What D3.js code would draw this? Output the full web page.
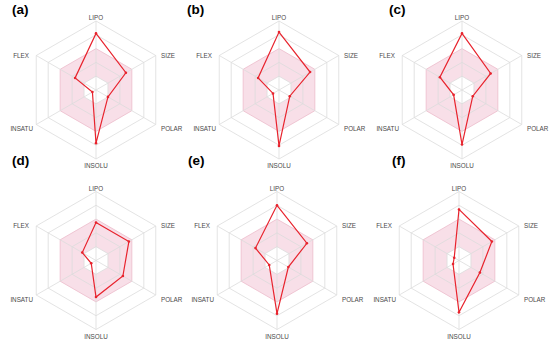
<!DOCTYPE html>
<html><head><meta charset="utf-8">
<script src="https://cdn.jsdelivr.net/npm/d3@7"></script>
<style>body{margin:0;background:#fff}svg{display:block}</style>
</head><body>
<svg id="c" width="550" height="343"></svg>
<script>
const axes = ["LIPO","SIZE","POLAR","INSOLU","INSATU","FLEX"];
const panels = ["(a)","(b)","(c)","(d)","(e)","(f)"];
const valuesA = [0.82,0.50,0.20,0.77,0.06,0.35];
const valuesB = [0.84,0.52,0.18,0.81,0.10,0.35];
const valuesC = [0.82,0.48,0.18,0.79,0.14,0.37];
const valuesD = [0.55,0.55,0.45,0.53,0.08,0.23];
const valuesE = [0.80,0.50,0.19,0.77,0.13,0.36];
const valuesF = [0.74,0.55,0.35,0.75,0.10,0.08];
const allValues = [valuesA,valuesB,valuesC,valuesD,valuesE,valuesF];
const ringLevels = [0.2,0.4,0.6,0.8,1.0];
const optimalRange = [0.2,0.6];

const centers = [[96,90],[279,90],[462,90],[96,260.5],[277,260.5],[459,260.5]];
const labelPos = [[12,14],[187,14],[389,14],[12,165],[188,165],[392,165]];
const R = 69;
const svg = d3.select("#c");
const r = d3.scaleLinear().domain([0,1]).range([0,R]);
const ang = d3.scalePoint().domain(axes.concat(["_"])).range([-Math.PI/2, 1.5*Math.PI]);
const pt = (a,v)=>[r(v)*Math.cos(ang(a)), r(v)*Math.sin(ang(a))];
const hexPath = v => "M"+axes.map(a=>pt(a,v).join(",")).join("L")+"Z";

const labelOff = {
  LIPO:[0,-70,"middle"], SIZE:[65,-32.5,"start"], POLAR:[65,41,"start"],
  INSOLU:[0,78,"middle"], INSATU:[-63,41,"end"], FLEX:[-67,-32.5,"end"]
};

allValues.forEach((vals,i)=>{
  const g = svg.append("g").attr("transform",`translate(${centers[i][0]},${centers[i][1]})`);
  g.append("path").attr("d", hexPath(optimalRange[1])+hexPath(optimalRange[0]))
    .attr("fill","#f8dfe8").attr("fill-rule","evenodd").attr("stroke","none");
  ringLevels.forEach(l=>{
    g.append("path").attr("d",hexPath(l)).attr("fill","none")
      .attr("stroke", (l===optimalRange[1]) ? "#ecbccb" : "#dcdcdc").attr("stroke-width",0.8);
  });
  axes.forEach(a=>{
    const p = pt(a,1);
    g.append("line").attr("x1",0).attr("y1",0).attr("x2",p[0]).attr("y2",p[1])
      .attr("stroke","#dcdcdc").attr("stroke-width",0.8);
    const o = labelOff[a];
    g.append("text").attr("x",o[0]).attr("y",o[1]).attr("text-anchor",o[2])
      .attr("font-family","Liberation Sans, Arial, sans-serif").attr("font-size",6.3)
      .attr("fill","#4a4a4a").text(a);
  });
  const line = d3.line().curve(d3.curveLinearClosed);
  const pts = axes.map((a,k)=>pt(a,vals[k]));
  g.append("path").attr("d",line(pts)).attr("fill","none").attr("stroke","#e8232d").attr("stroke-width",1.2);
  g.selectAll("circle").data(pts).join("circle").attr("cx",d=>d[0]).attr("cy",d=>d[1]).attr("r",1.3).attr("fill","#e8232d");
  svg.append("text").attr("x",labelPos[i][0]).attr("y",labelPos[i][1])
    .attr("font-family","Liberation Sans, Arial, sans-serif").attr("font-weight","bold")
    .attr("font-size",13.5).attr("fill","#000").text(panels[i]);
});
</script>
</body></html>
